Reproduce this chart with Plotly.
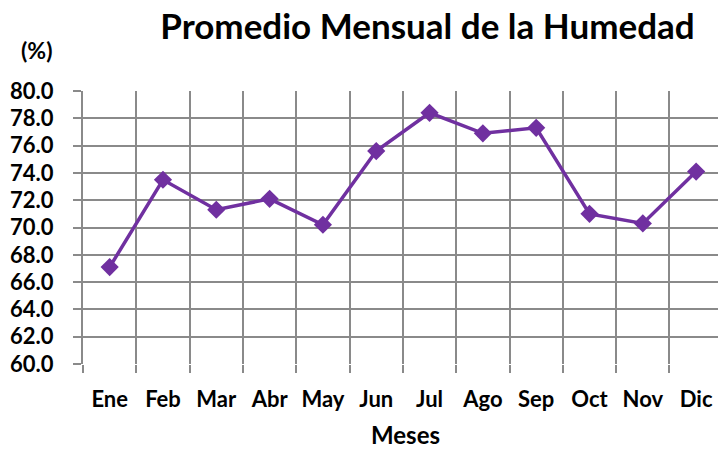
import plotly.graph_objects as go

meses = ["Ene", "Feb", "Mar", "Abr", "May", "Jun", "Jul", "Ago", "Sep", "Oct", "Nov", "Dic"]
humedad = [67.1, 73.5, 71.3, 72.1, 70.2, 75.6, 78.4, 76.9, 77.3, 71.0, 70.3, 74.1]
y_ticks = [60, 62, 64, 66, 68, 70, 72, 74, 76, 78, 80]

FONT = "Lato"
GRID = "#8a8a8a"
PURPLE = "#7030A0"

W, H = 718, 449
L, T, PH = 83, 91, 273
PW = W - L
B = H - T - PH

fig = go.Figure()
fig.add_trace(go.Scatter(
    x=meses, y=humedad, mode="lines+markers",
    line=dict(color=PURPLE, width=3.5),
    marker=dict(symbol="diamond", size=14, color=PURPLE),
    cliponaxis=False, showlegend=False,
))

fig.update_layout(
    width=W, height=H,
    margin=dict(l=L, r=0, t=T, b=B),
    paper_bgcolor="white", plot_bgcolor="white",
    font=dict(family=FONT, color="black"),
    title=dict(text="Promedio Mensual de la Humedad",
               x=427.5 / W, xanchor="center", xref="container",
               y=1 - 27 / H, yanchor="middle", yref="container",
               font=dict(size=35, family=FONT, color="black", weight="bold")),
    annotations=[
        dict(text="(%)", xref="paper", yref="paper",
             x=(36 - L) / PW, y=1 + (T - 50) / PH,
             xanchor="center", yanchor="middle", showarrow=False,
             font=dict(size=23, family=FONT, color="black", weight="bold")),
        dict(text="Meses", xref="paper", yref="paper",
             x=(405 - L) / PW, y=-(434.5 - (T + PH)) / PH,
             xanchor="center", yanchor="middle", showarrow=False,
             font=dict(size=24, family=FONT, color="black", weight="bold")),
    ],
)

fig.update_xaxes(
    type="category", range=[-0.5, 11.41],
    tickson="boundaries", showgrid=True, gridcolor=GRID, gridwidth=2,
    ticks="outside", ticklen=8, tickcolor=GRID, tickwidth=2,
    showline=False, zeroline=False, tickangle=0,
    tickfont=dict(size=22, family=FONT, color="black", weight="bold"),
    ticklabelstandoff=20,
)
fig.update_yaxes(
    range=[60, 80], tickvals=y_ticks, tickformat=".1f",
    showgrid=True, gridcolor=GRID, gridwidth=2,
    ticks="outside", ticklen=8, tickcolor=GRID, tickwidth=2,
    showline=True, linecolor=GRID, linewidth=2, zeroline=False,
    tickfont=dict(size=22, family=FONT, color="black", weight="bold"),
    ticklabelstandoff=15,
)

fig.write_html(
    "out.html",
    config={"displayModeBar": False},
    post_script="document.body.style.margin='0';document.body.style.overflow='hidden';",
)
